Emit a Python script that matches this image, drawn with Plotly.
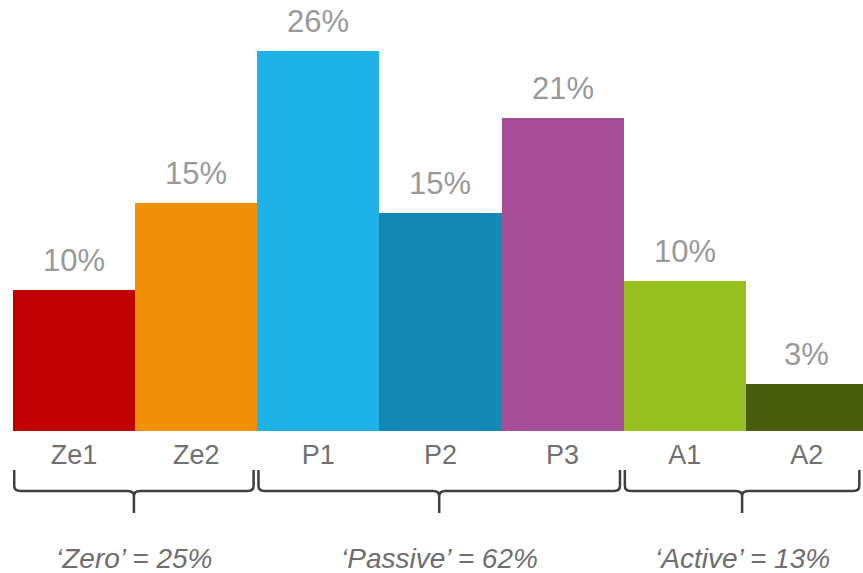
import plotly.graph_objects as go

# Share of respondents per segment (%)
categories = ["Ze1", "Ze2", "P1", "P2", "P3", "A1", "A2"]
shares = [9.55, 15.46, 25.73, 14.74, 21.19, 10.16, 3.18]
bar_colors = ["#C00000", "#F29009", "#1EB2E7", "#1488B5", "#A64F96", "#97C01E", "#4A5D0F"]

# Segment groups: (name, first index, last index)
groups = [("Zero", 0, 1), ("Passive", 2, 4), ("Active", 5, 6)]

X_MAX = 6.46
Y_MAX = 29.18

fig = go.Figure(
    go.Bar(
        x=list(range(len(categories))),
        y=shares,
        marker=dict(color=bar_colors, line=dict(width=0)),
        width=1.0,
        hoverinfo="skip",
    )
)

# Value labels above each bar
for i, v in enumerate(shares):
    fig.add_annotation(
        x=i, y=v, xref="x", yref="y",
        text=f"{v:.0f}%",
        showarrow=False, yanchor="bottom", yshift=10,
        font=dict(family="Liberation Sans, Arial", size=31, color="#999999"),
    )

# Curly braces and group totals below the category labels
Y_TOP, Y_MID, Y_BOT = -0.0905, -0.139, -0.190
RX, RY = 0.05, 0.012
for name, a, b in groups:
    left = a - 0.5 + 0.01
    right = min(b + 0.5 - 0.03, X_MAX - 0.03)
    c = (left + right) / 2
    path = (
        f"M {left},{Y_TOP} L {left},{Y_MID + RY} "
        f"Q {left},{Y_MID} {left + RX},{Y_MID} L {c - RX},{Y_MID} "
        f"Q {c},{Y_MID} {c},{Y_MID - RY} L {c},{Y_BOT} "
        f"M {c},{Y_MID - RY} Q {c},{Y_MID} {c + RX},{Y_MID} "
        f"L {right - RX},{Y_MID} Q {right},{Y_MID} {right},{Y_MID + RY} "
        f"L {right},{Y_TOP}"
    )
    fig.add_shape(
        type="path", path=path, xref="x", yref="paper",
        line=dict(color="#3F3F3F", width=2.5),
    )
    total = sum(shares[a:b + 1])
    fig.add_annotation(
        x=c, y=-0.295, xref="x", yref="paper",
        text=f"<i>\u2018{name}\u2019 = {total:.0f}%</i>",
        showarrow=False, yanchor="middle",
        font=dict(family="Liberation Sans, Arial", size=28, color="#6E6E6E"),
    )

fig.update_layout(
    width=863, height=573,
    margin=dict(l=13, r=0, t=0, b=142),
    paper_bgcolor="white", plot_bgcolor="white",
    showlegend=False,
    bargap=0,
    xaxis=dict(
        range=[-0.5, X_MAX],
        tickmode="array",
        tickvals=list(range(len(categories))),
        ticktext=categories,
        tickfont=dict(family="Liberation Sans, Arial", size=27, color="#707070"),
        showgrid=False, zeroline=False, showline=False, ticks="",
        ticklabelstandoff=5,
    ),
    yaxis=dict(
        range=[0, Y_MAX],
        visible=False, showgrid=False, zeroline=False,
    ),
)

fig.write_html("out.html")
